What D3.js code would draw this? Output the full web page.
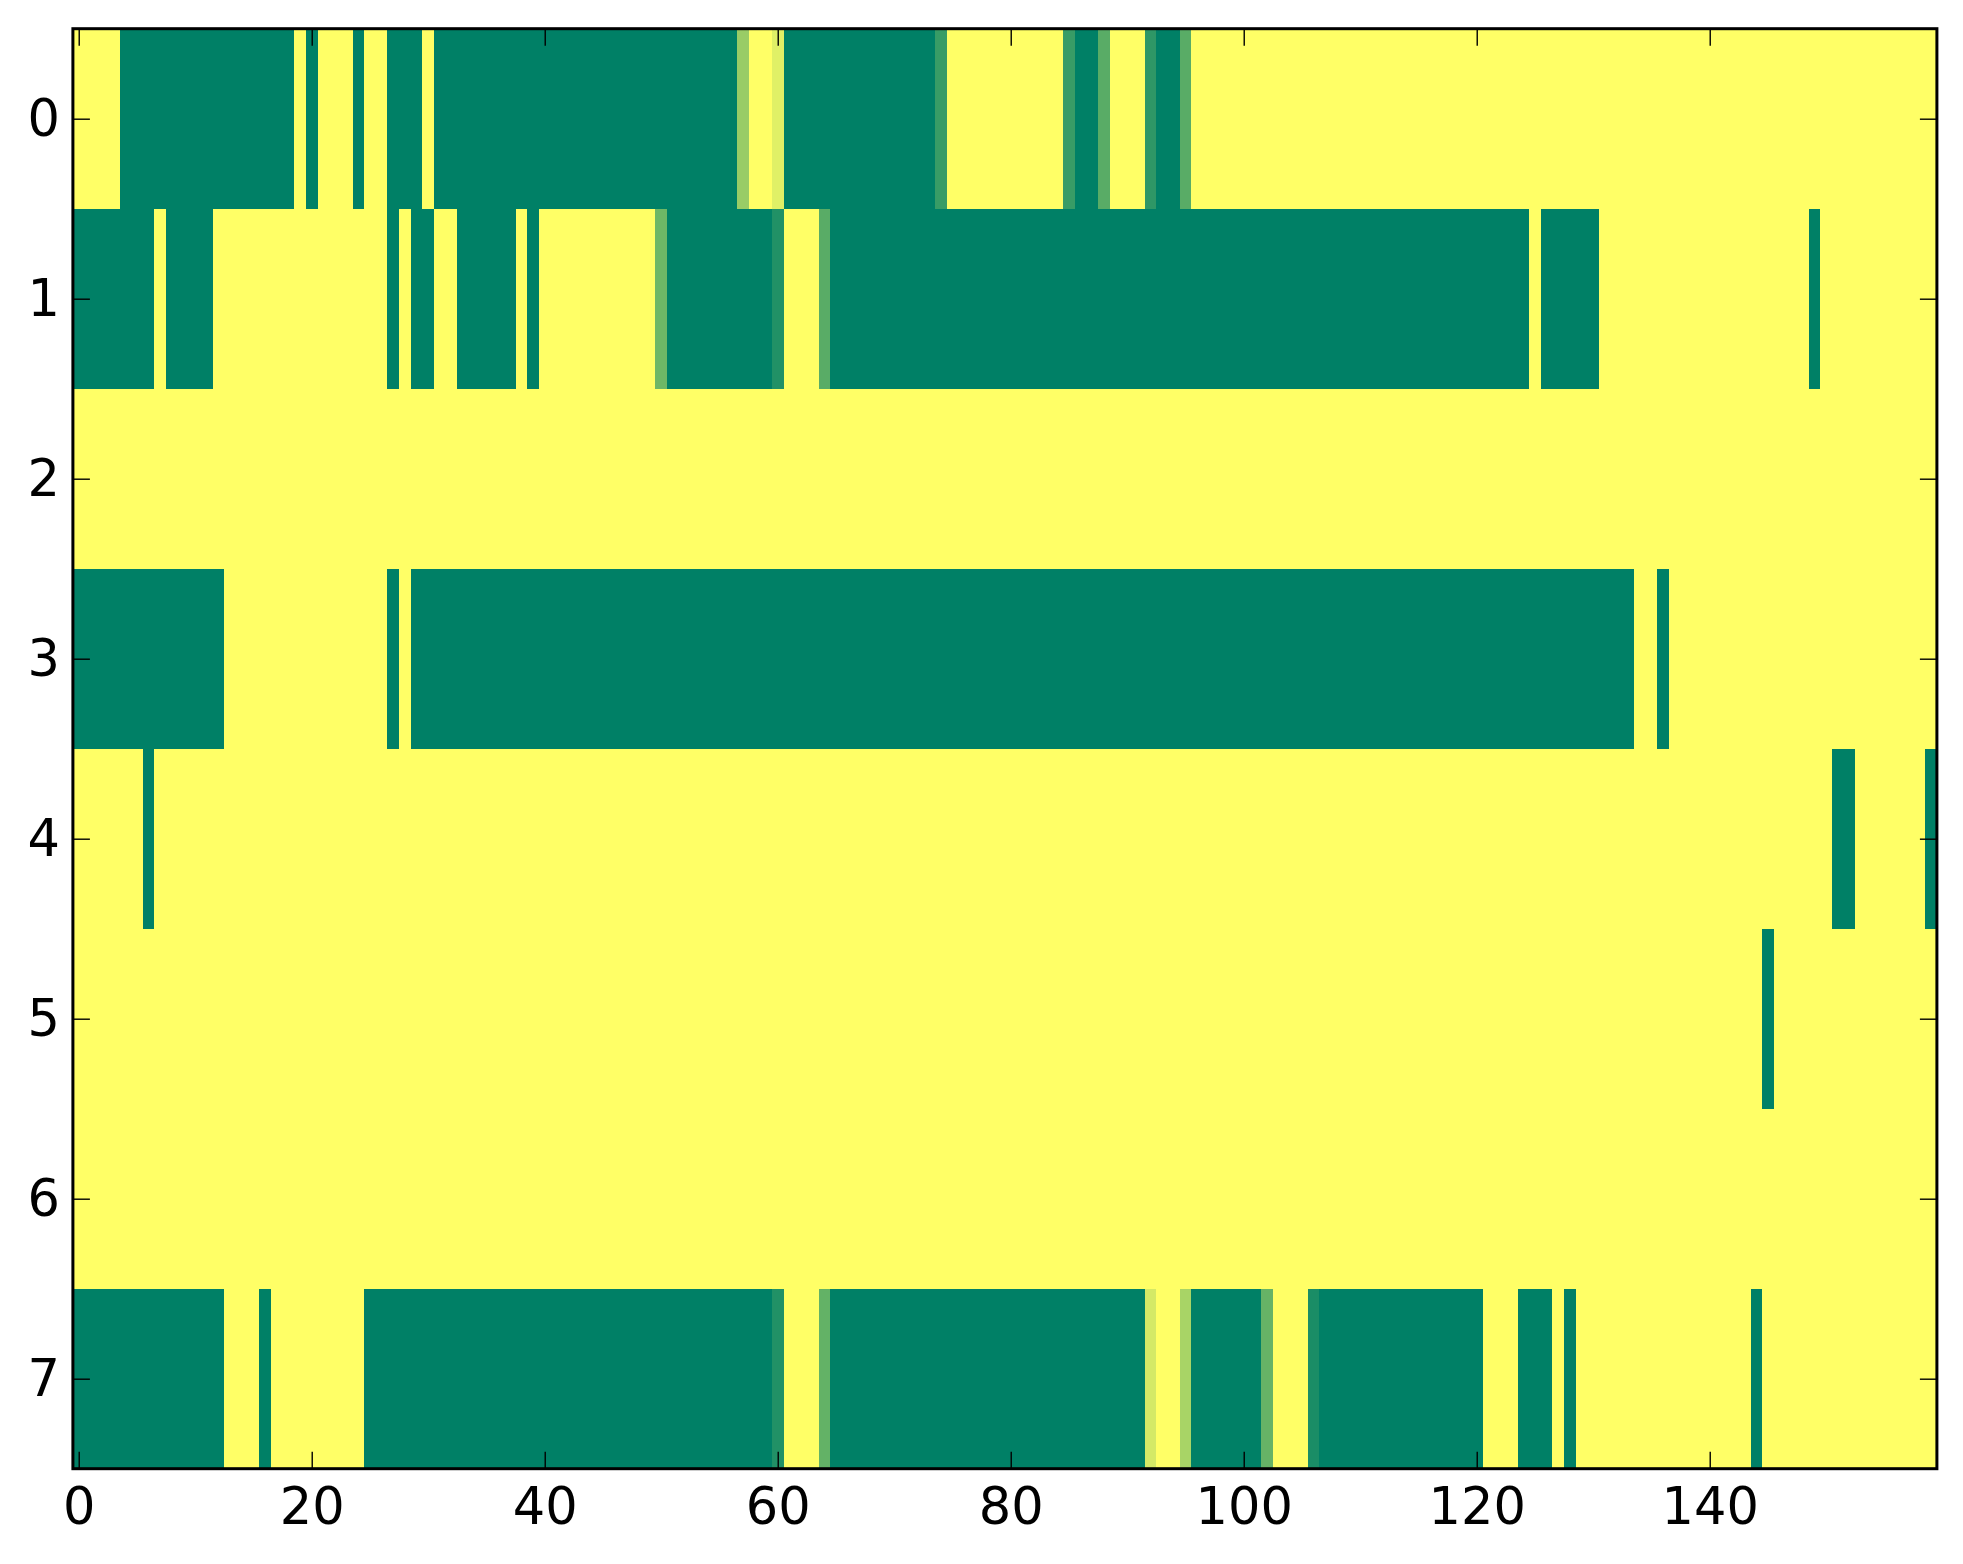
<!DOCTYPE html>
<html>
<head>
    <meta charset="utf-8">
    <script type="text/javascript" src="https://d3js.org/d3.v7.min.js"></script>
    <style>
        body { margin: 0; background: white; }
        text { font-family: "DejaVu Sans", sans-serif; }
    </style>
</head>
<body>
<div id="datavis"></div>
<script type="text/javascript">
    // rows of the matrix, written as runs: [first column, last column, value]
    var nCols = 160;
    var rowNames = [0, 1, 2, 3, 4, 5, 6, 7];
    var row0 = [[0,3,1],[4,18,0],[19,19,1],[20,20,0],[21,23,1],[24,24,0],[25,26,1],[27,29,0],[30,30,1],
                [31,56,0],[57,57,0.6],[58,59,1],[60,60,0.88],[61,73,0],[74,74,0.22],[75,84,1],[85,85,0.22],
                [86,87,0],[88,88,0.35],[89,91,1],[92,92,0.18],[93,94,0],[95,95,0.35],[96,159,1]];
    var row1 = [[0,6,0],[7,7,1],[8,11,0],[12,26,1],[27,27,0],[28,28,1],[29,30,0],[31,32,1],[33,37,0],
                [38,38,1],[39,39,0],[40,49,1],[50,50,0.43],[51,59,0],[60,60,0.13],[61,63,1],[64,64,0.35],
                [65,124,0],[125,125,1],[126,130,0],[131,148,1],[149,149,0],[150,159,1]];
    var row2 = [[0,159,1]];
    var row3 = [[0,12,0],[13,26,1],[27,27,0],[28,28,1],[29,133,0],[134,135,1],[136,136,0],[137,159,1]];
    var row4 = [[0,5,1],[6,6,0],[7,150,1],[151,152,0],[153,158,1],[159,159,0]];
    var row5 = [[0,144,1],[145,145,0],[146,159,1]];
    var row6 = [[0,159,1]];
    var row7 = [[0,12,0],[13,15,1],[16,16,0],[17,24,1],[25,59,0],[60,60,0.13],[61,63,1],[64,64,0.39],
                [65,91,0],[92,92,0.83],[93,94,1],[95,95,0.66],[96,101,0],[102,102,0.4],[103,105,1],
                [106,106,0.1],[107,120,0],[121,123,1],[124,126,0],[127,127,1],[128,128,0],[129,143,1],
                [144,144,0],[145,159,1]];
    var allRows = [row0, row1, row2, row3, row4, row5, row6, row7];
    var xTicks = [0, 20, 40, 60, 80, 100, 120, 140];
    var yTicks = [0, 1, 2, 3, 4, 5, 6, 7];

    // turn the runs into cells
    var cells = [];
    allRows.forEach(function(runs, r) {
        runs.forEach(function(run) {
            for (var c = run[0]; c <= run[1]; c++) {
                cells.push({row: rowNames[r], col: c, value: run[2]});
            }
        });
    });

    var W = 1963, H = 1564;
    var margin = {top: 28.7, left: 72.9};
    var width = 1864, height = 1440;

    var svg = d3.select("#datavis")
        .append("svg")
        .attr("width", W)
        .attr("height", H)
        .append("g")
        .attr("transform", "translate(" + margin.left + "," + margin.top + ")");

    var x = d3.scaleLinear().domain([-0.5, nCols - 0.5]).range([0, width]);
    var y = d3.scaleLinear().domain([-0.5, 7.5]).range([0, height]);
    // matplotlib "summer" colormap
    var color = d3.scaleLinear().domain([0, 1]).range(["#008066", "#ffff66"]);

    svg.selectAll("rect.cell")
        .data(cells)
        .enter()
        .append("rect")
            .attr("class", "cell")
            .attr("x", function(d) { return x(d.col - 0.5); })
            .attr("y", function(d) { return y(d.row - 0.5); })
            .attr("width", x(1) - x(0) + 0.4)
            .attr("height", y(1) - y(0) + 0.4)
            .attr("fill", function(d) { return color(d.value); })
            .attr("shape-rendering", "crispEdges");

    // inward ticks on all four sides
    var tickLen = 17;
    function styleAxis(g) {
        g.select(".domain").remove();
        g.selectAll("line").attr("stroke", "black").attr("stroke-width", 1.4);
        g.selectAll("text").attr("font-size", "51px").attr("fill", "black");
    }
    svg.append("g")
        .attr("transform", "translate(0," + height + ")")
        .call(d3.axisBottom(x).tickValues(xTicks).tickSizeInner(-tickLen).tickSizeOuter(0).tickPadding(19))
        .call(styleAxis)
        .selectAll("text").attr("dy", "0.71em");
    svg.append("g")
        .call(d3.axisTop(x).tickValues(xTicks).tickSizeInner(-tickLen).tickSizeOuter(0).tickFormat(""))
        .call(styleAxis);
    svg.append("g")
        .call(d3.axisLeft(y).tickValues(yTicks).tickSizeInner(-tickLen).tickSizeOuter(0).tickPadding(13))
        .call(styleAxis);
    svg.append("g")
        .attr("transform", "translate(" + width + ",0)")
        .call(d3.axisRight(y).tickValues(yTicks).tickSizeInner(-tickLen).tickSizeOuter(0).tickFormat(""))
        .call(styleAxis);

    // frame
    svg.append("rect")
        .attr("x", 0)
        .attr("y", 0)
        .attr("width", width)
        .attr("height", height)
        .attr("fill", "none")
        .attr("stroke", "black")
        .attr("stroke-width", 3);
</script>
</body>
</html>
